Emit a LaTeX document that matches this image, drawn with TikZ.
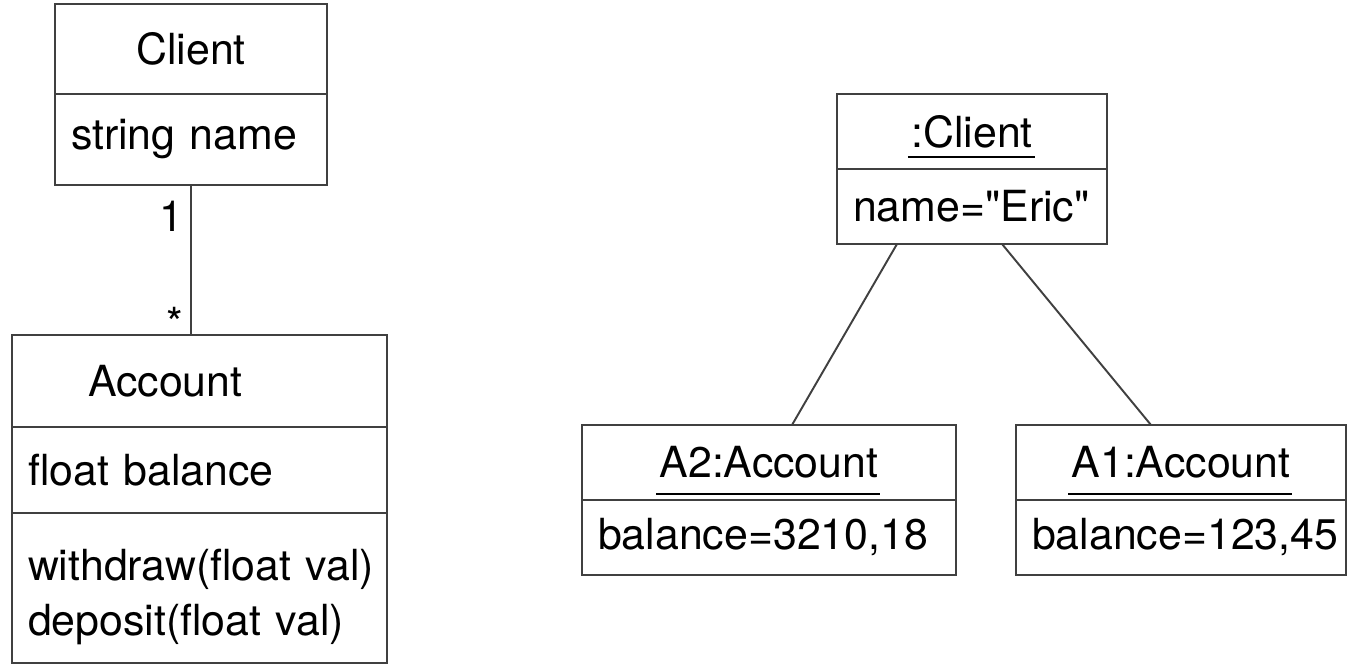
\documentclass[tikz,border=0pt]{standalone}
\usepackage{fontspec}
\setmainfont{TeX Gyre Heros}[Ligatures=TeXOff]
\usepackage{tikz}
\usetikzlibrary{positioning}

% underlined object name (UML instance)
\newcommand{\objname}[2][5pt]{\sbox0{#2}\rlap{\kern-2pt\smash{\vrule width\dimexpr\wd0+3pt\relax height -#1 depth \dimexpr#1+1.1pt\relax}}\box0}

\begin{document}
\begin{tikzpicture}[
x=0.02cm, y=-0.02cm,
comp/.style={
rectangle,
draw=black!75,
line width=1.1pt,
outer sep=0pt,
inner xsep=0.32cm,
inner ysep=0pt,
font=\fontsize{24.4}{28}\selectfont
},
namecomp/.style={comp, align=center},
attrcomp/.style={comp, align=left},
assoc/.style={draw=black!75, line width=1.1pt},
mult/.style={font=\fontsize{24.4}{28}\selectfont, inner sep=0.14cm}
]
\useasboundingbox (0,0) rectangle (1352,665);

% Client class
\node[namecomp, text width=4.8cm, minimum height=1.8cm] (clientname) at (191,49) {Client};
\node[attrcomp, text width=4.8cm, minimum height=1.82cm, below=0pt of clientname] (clientattr) {string name};

% Account class
\node[attrcomp, text width=6.86cm, minimum height=1.84cm] (accname) at (199.5,381) {\hspace*{1.2cm}Account};
\node[attrcomp, text width=6.86cm, minimum height=1.72cm, below=0pt of accname] (accattr) {float balance};
\node[attrcomp, text width=6.86cm, minimum height=3.0cm, below=0pt of accattr] (accops)
{\rule{0pt}{1.0cm}\mbox{withdraw(float val)}\\[0.12cm]\mbox{deposit(float val)}};

% association
\draw[assoc] (clientattr.south) -- node[mult, pos=0.21, left] {1} node[mult, pos=0.92, left] {*} (clientattr.south |- accname.north);

% Objects
\node[namecomp, text width=4.76cm, minimum height=1.5cm] (ocname) at (972,131.5) {\objname[5pt]{:Client}\hspace*{0.44cm}};
\node[attrcomp, text width=4.76cm, minimum height=1.5cm, below=0pt of ocname] (ocattr) {name="Eric"};

\node[namecomp, text width=6.84cm, minimum height=1.5cm] (atwoname) at (769,462.5) {\objname[8.5pt]{A2:Account}};
\node[attrcomp, text width=6.84cm, minimum height=1.5cm, below=0pt of atwoname] (atwoattr) {balance=3210,18};

\node[namecomp, text width=5.96cm, minimum height=1.5cm] (aonename) at (1181,462.5) {\objname[8.5pt]{A1:Account}\hspace*{0.32cm}};
\node[attrcomp, text width=5.96cm, minimum height=1.5cm, below=0pt of aonename] (aoneattr) {balance=123,45};

% Links
\draw[assoc] ([xshift=-1.5cm]ocattr.south) -- ([xshift=0.46cm]atwoname.north);
\draw[assoc] ([xshift=0.6cm]ocattr.south) -- ([xshift=-0.6cm]aonename.north);

\end{tikzpicture}
\end{document}
